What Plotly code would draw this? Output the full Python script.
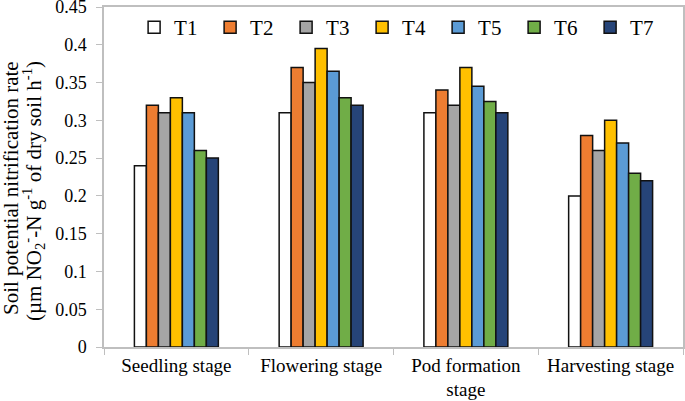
import plotly.graph_objects as go

categories = ["Seedling stage", "Flowering stage", "Pod formation<br>stage", "Harvesting stage"]
series_names = ["T1", "T2", "T3", "T4", "T5", "T6", "T7"]
T1 = [0.24, 0.31, 0.31, 0.20]
T2 = [0.32, 0.37, 0.34, 0.28]
T3 = [0.31, 0.35, 0.32, 0.26]
T4 = [0.33, 0.395, 0.37, 0.30]
T5 = [0.31, 0.365, 0.345, 0.27]
T6 = [0.26, 0.33, 0.325, 0.23]
T7 = [0.25, 0.32, 0.31, 0.22]
y_ticks = [0, 0.05, 0.1, 0.15, 0.2, 0.25, 0.3, 0.35, 0.4, 0.45]
y_tick_labels = ["0", "0.05", "0.1", "0.15", "0.2", "0.25", "0.3", "0.35", "0.4", "0.45"]
y_title_line1 = "Soil potential nitrification rate"
y_title_line2 = "(µm NO<sub>2</sub><sup>-</sup>-N g<sup>-1</sup> of dry soil h<sup>-1</sup>)"

series_values = [T1, T2, T3, T4, T5, T6, T7]
colors = ["#FFFFFF", "#ED7D31", "#A5A5A5", "#FFC000", "#5B9BD5", "#70AD47", "#264478"]

ff = "Liberation Serif"

fig = go.Figure()
for name, vals, col in zip(series_names, series_values, colors):
    fig.add_trace(go.Bar(
        x=categories, y=vals, name=name,
        marker=dict(color=col, line=dict(color="#111111", width=1.5)),
    ))

title_font = dict(family=ff, size=21, color="#000000")
fig.update_layout(
    width=685, height=401,
    margin=dict(l=104, r=2, t=7, b=54),
    paper_bgcolor="white", plot_bgcolor="white",
    barmode="group", bargap=0.42, bargroupgap=0,
    font=dict(family=ff, size=18, color="#000000"),
    showlegend=True,
    legend=dict(
        orientation="h", x=0.052, y=1.0, xanchor="left", yanchor="top",
        entrywidth=31, entrywidthmode="pixels",
        font=dict(family=ff, size=21, color="#000000"),
        bgcolor="rgba(0,0,0,0)",
    ),
    annotations=[
        dict(text=y_title_line1, xref="paper", yref="paper", x=0, y=0.5,
             xanchor="center", yanchor="middle", xshift=-93, yshift=-11,
             textangle=-90, showarrow=False, font=title_font),
        dict(text=y_title_line2, xref="paper", yref="paper", x=0, y=0.5,
             xanchor="center", yanchor="middle", xshift=-71, yshift=-14,
             textangle=-90, showarrow=False, font=title_font),
    ],
)
fig.update_xaxes(
    automargin=False,
    showline=True, linecolor="#BFBFBF", linewidth=1.5, mirror=True,
    ticks="outside", tickson="boundaries", ticklen=6, tickcolor="#BFBFBF",
    tickfont=dict(family=ff, size=19, color="#000000"),
)
fig.update_yaxes(
    automargin=False,
    range=[0, 0.45], tickvals=y_ticks, ticktext=y_tick_labels,
    showline=True, linecolor="#BFBFBF", linewidth=1.5, mirror=True,
    ticks="outside", ticklen=6, tickcolor="#BFBFBF", showgrid=False,
    ticklabelstandoff=6, ticklabeloverflow="allow",
    tickfont=dict(family=ff, size=18, color="#000000"),
)

fig.write_html(
    "out.html",
    config={"displayModeBar": False},
    post_script="document.body.style.margin='0';document.body.style.padding='0';",
)
